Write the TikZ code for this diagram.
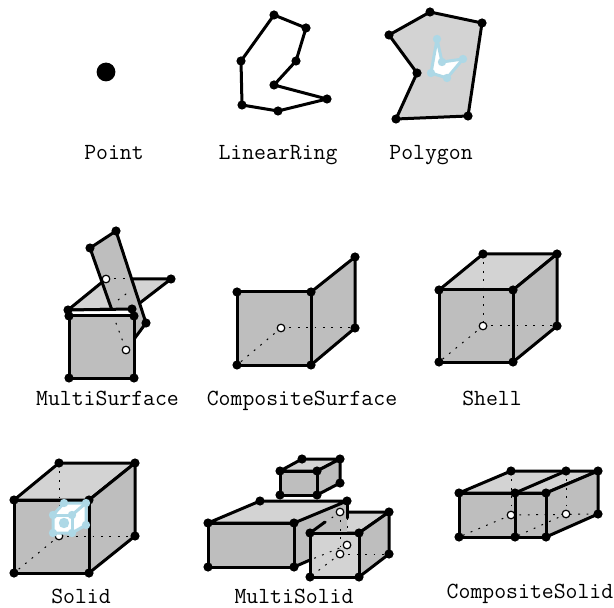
\documentclass[tikz,border=0pt]{standalone}
\usepackage{fontspec}
\definecolor{facedark}{RGB}{190,190,190}
\definecolor{facelight}{RGB}{211,211,211}
\definecolor{holeblue}{RGB}{173,216,230}
\tikzset{
  edge/.style={line width=1.5pt,line join=round,line cap=round,black},
  dk/.style={edge,fill=facedark},
  lt/.style={edge,fill=facelight},
  hid/.style={line width=.5pt,black,dash pattern=on .9pt off 3.3pt},
  hole/.style={line width=1.5pt,line join=round,draw=holeblue,fill=white},
  lbl/.style={font=\fontsize{11.55}{13}\selectfont\ttfamily,inner sep=0pt,anchor=base},
}
\newcommand{\vts}[1]{\foreach \p in {#1}{\fill[black] \p circle[radius=2.3pt];}}
\newcommand{\bvts}[1]{\foreach \p in {#1}{\fill[holeblue] \p circle[radius=2.1pt];}}
\newcommand{\wvts}[1]{\foreach \p in {#1}{\draw[black,fill=white,line width=.6pt] \p circle[radius=1.9pt];}}
\begin{document}
\begin{tikzpicture}[x=.5pt,y=-.5pt]
\useasboundingbox (0,0) rectangle (614,608);
% Point
\fill[black] (106,72) circle[radius=4.7pt];
\node[lbl] (lpoint) at (114,160) {Point};
% LinearRing
\draw[edge] (274,15)--(306,28)--(296,61)--(274,85)--(327,99)--(278,111)--(242,105)--(241,61)--cycle;
\vts{(274,15),(306,28),(296,61),(274,85),(327,99),(278,111),(242,105),(241,61)}
\node[lbl] (lring) at (278,160) {LinearRing};
% Polygon
\draw[lt] (430,12)--(482,23)--(468,116)--(396,119)--(417,73)--(389,35)--cycle;
\vts{(430,12),(482,23),(468,116),(396,119),(417,73),(389,35)}
\draw[hole] (437,39)--(442,62)--(463,59)--(447,78)--(431,73)--cycle;
\bvts{(437,39),(442,62),(463,59),(447,78),(431,73)}
\node[lbl] (lpoly) at (431,160) {Polygon};
% MultiSurface
\draw[lt] (68,310)--(106,279)--(171,279)--(132,309)--cycle;
\draw[dk] (90,248)--(116,231)--(146,323)--(126,350)--cycle;
\fill[white] (68,309) rectangle (134,316);
\draw[dk] (69,316)--(134,316)--(134,378)--(69,378)--cycle;
\draw[edge] (68,310)--(132,309);
\draw[hid] (106,279)--(134,279);
\draw[hid] (118,300)--(130,291);
\draw[hid] (113,315)--(126,350);
\vts{(90,248),(116,231),(146,323),(171,279),(68,310),(132,309),(69,316),(134,316),(134,378),(69,378)}
\wvts{(106,279),(126,350)}
\node[lbl] (lms) at (107.5,405) {MultiSurface};
% CompositeSurface
\draw[dk] (311,292)--(355,257)--(355,328)--(311,365)--cycle;
\draw[dk] (237,292)--(311,292)--(311,365)--(237,365)--cycle;
\draw[hid] (281,328)--(355,328);
\draw[hid] (281,328)--(237,365);
\vts{(237,292),(311,292),(311,365),(237,365),(355,257),(355,328)}
\wvts{(281,328)}
\node[lbl] (lcs) at (302,405) {CompositeSurface};
% Shell
\draw[lt] (439,290)--(483,254)--(557,254)--(513,290)--cycle;
\draw[dk] (513,290)--(557,254)--(557,326)--(513,362)--cycle;
\draw[dk] (439,290)--(513,290)--(513,362)--(439,362)--cycle;
\draw[hid] (483,254)--(483,326);
\draw[hid] (483,326)--(557,326);
\draw[hid] (483,326)--(439,362);
\vts{(439,290),(513,290),(513,362),(439,362),(483,254),(557,254),(557,326)}
\wvts{(483,326)}
\node[lbl] (lshell) at (492,405) {Shell};
% Solid
\draw[lt] (14,500)--(59,463)--(135,463)--(89,500)--cycle;
\draw[dk] (89,500)--(135,463)--(135,536)--(89,573)--cycle;
\draw[dk] (14,500)--(89,500)--(89,573)--(14,573)--cycle;
\draw[hid] (59,463)--(59,536);
\draw[hid] (59,536)--(135,536);
\draw[hid] (59,536)--(14,573);
\vts{(14,500),(89,500),(89,573),(14,573),(59,463),(135,463),(135,536)}
\wvts{(59,536)}
\draw[hole] (53,515)--(64,503)--(86,503)--(86,525)--(72,533)--(53,533)--cycle;
\draw[hole,fill=none] (53,515)--(72,515)--(72,533);
\draw[hole,fill=none] (72,515)--(86,503);
\bvts{(53,515),(64,503),(86,503),(86,525),(72,533),(53,533),(72,515)}
\fill[holeblue] (64,523) circle[radius=2.6pt];
\node[lbl] (lsolid) at (81,603) {Solid};
% MultiSolid
\draw[lt] (280,471)--(302,459)--(340,459)--(317,471)--cycle;
\draw[dk] (317,471)--(340,459)--(340,483)--(317,495)--cycle;
\draw[dk] (280,471)--(317,471)--(317,495)--(280,495)--cycle;
\vts{(280,471),(317,471),(317,495),(280,495),(302,459),(340,459),(340,483)}
\draw[lt] (340,512)--(389,512)--(359,533)--(310,533)--cycle;
\draw[dk] (359,533)--(389,512)--(389,554)--(359,577)--cycle;
\fill[facedark] (294,523)--(347,501)--(347,545)--(294,567)--cycle;
\draw[edge] (347,501)--(347,518);
\draw[edge] (294,567)--(310,560);
\draw[lt] (208,523)--(260,501)--(347,501)--(294,523)--cycle;
\draw[dk] (208,523)--(294,523)--(294,567)--(208,567)--cycle;
\draw[edge] (310,533)--(325,522);
\draw[hid] (347,518)--(347,545);
\draw[hid] (340,512)--(326,522);
\draw[lt] (310,533)--(359,533)--(359,577)--(310,577)--cycle;
\draw[hid] (340,512)--(340,554);
\draw[hid] (340,554)--(389,554);
\draw[hid] (340,554)--(310,577);
\draw[hid] (347,545)--(310,560);
\vts{(208,523),(294,523),(294,567),(208,567),(260,501),(347,501),(310,533),(359,533),(359,577),(310,577),(389,512),(389,554)}
\wvts{(340,512),(347,545),(340,554)}
\node[lbl] (lmsol) at (294,603) {MultiSolid};
% CompositeSolid
\draw[lt] (459,493)--(511,471)--(598,471)--(546,493)--cycle;
\draw[dk] (546,493)--(598,471)--(598,514)--(546,537)--cycle;
\draw[dk] (459,493)--(546,493)--(546,537)--(459,537)--cycle;
\draw[edge] (515,493)--(566,471);
\draw[edge] (515,493)--(515,537);
\draw[hid] (511,471)--(511,515);
\draw[hid] (566,471)--(566,514);
\draw[hid] (511,515)--(598,514);
\draw[hid] (511,515)--(459,537);
\draw[hid] (566,514)--(515,537);
\vts{(459,493),(515,493),(546,493),(459,537),(515,537),(546,537),(511,471),(566,471),(598,471),(598,514)}
\wvts{(511,515),(566,514)}
\node[lbl] (lcsol) at (530,598) {CompositeSolid};
\end{tikzpicture}
\end{document}
